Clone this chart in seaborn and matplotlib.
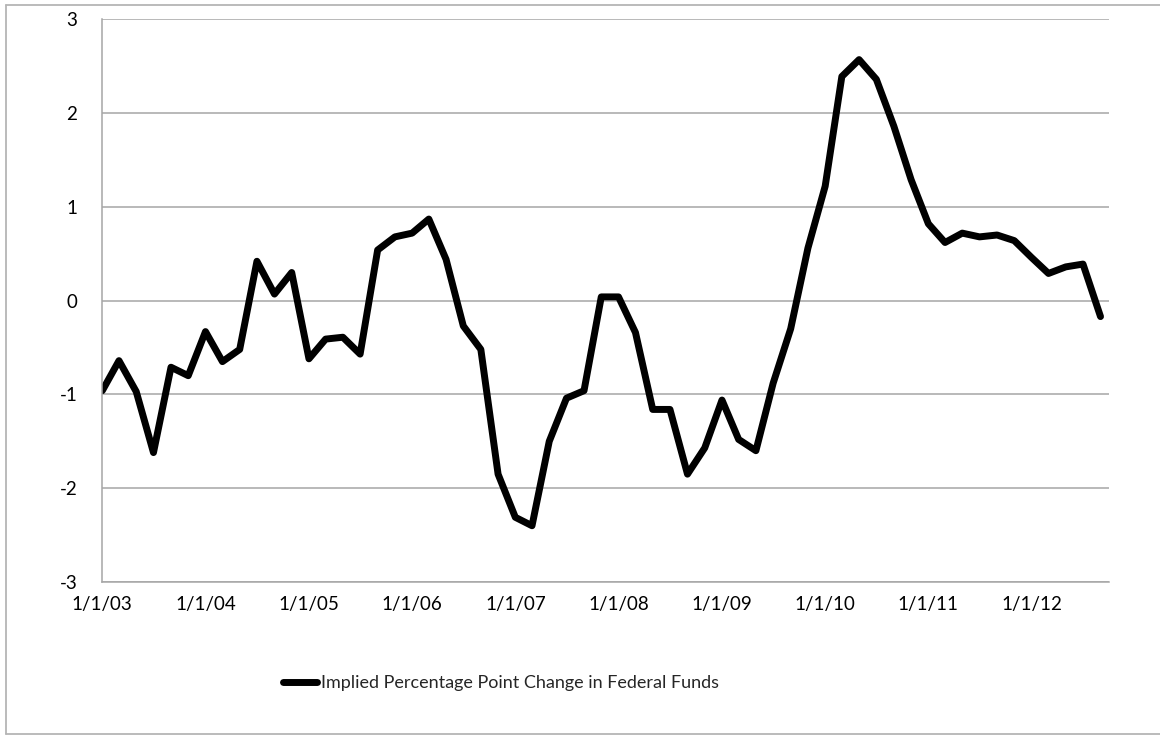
import matplotlib
matplotlib.use("Agg")
import matplotlib.pyplot as plt
import matplotlib.dates as mdates
from matplotlib.lines import Line2D
from matplotlib.ticker import FuncFormatter
import numpy as np
import pandas as pd
import seaborn as sns

# ---- data (bimonthly) ----
start_date = "2003-01-01"
n_points = 59
values = [-0.96, -0.64, -0.97, -1.62, -0.71, -0.80, -0.33, -0.65, -0.52, 0.42,
          0.07, 0.30, -0.62, -0.41, -0.39, -0.57, 0.54, 0.68, 0.72, 0.87,
          0.44, -0.27, -0.52, -1.85, -2.31, -2.40, -1.50, -1.04, -0.96, 0.04,
          0.04, -0.34, -1.16, -1.16, -1.85, -1.57, -1.06, -1.48, -1.60, -0.88,
          -0.30, 0.56, 1.22, 2.39, 2.57, 2.36, 1.86, 1.29, 0.82, 0.62,
          0.72, 0.68, 0.70, 0.64, 0.46, 0.29, 0.36, 0.39, -0.17]
series_name = "Implied Percentage Point Change in Federal Funds"
y_ticks = [-3, -2, -1, 0, 1, 2, 3]
x_tick_years = list(range(2003, 2013))

dates = pd.date_range(start_date, periods=n_points, freq="2MS")
df = pd.DataFrame({"date": dates, "value": values})

sns.set_style("white")
plt.rcParams["font.family"] = ["Lato", "DejaVu Sans"]
plt.rcParams["axes.unicode_minus"] = False

W, H = 1160, 735
fig = plt.figure(figsize=(W / 100, H / 100), dpi=100)
ax = fig.add_axes([102.3 / W, 1 - 582 / H, (1109 - 102.3) / W, (582 - 19.3) / H])

grid_c = "#a6a6a6"
sns.lineplot(data=df, x="date", y="value", ax=ax, color="black", linewidth=5.0,
             label=series_name, legend=False)
for l in ax.lines:
    l.set_solid_joinstyle("round")
    l.set_solid_capstyle("round")

ax.set_ylim(-3, 3)
ax.set_yticks(y_ticks)
ax.set_xlim(pd.Timestamp("2003-01-01"), pd.Timestamp("2012-10-01"))
ax.set_xticks([pd.Timestamp(f"{y}-01-01") for y in x_tick_years])
ax.xaxis.set_major_formatter(FuncFormatter(
    lambda v, p: (lambda d: f"{d.month}/{d.day}/{d:%y}")(mdates.num2date(v))))
ax.set_xlabel("")
ax.set_ylabel("")

ax.grid(axis="y", color=grid_c, linewidth=1.1)
ax.grid(axis="x", visible=False)
for s in ["top", "right"]:
    ax.spines[s].set_visible(False)
for s in ["left", "bottom"]:
    ax.spines[s].set_color(grid_c)
    ax.spines[s].set_linewidth(1.1)
ax.tick_params(axis="both", which="major", direction="out", length=5, width=1.1,
               color=grid_c, labelsize=13.5, labelcolor="black")
ax.tick_params(axis="y", pad=13)
ax.tick_params(axis="x", pad=5)

handles = [Line2D([0], [0], color="black", linewidth=5.0, solid_capstyle="round")]
fig.legend(handles, [series_name], loc="center", bbox_to_anchor=(501 / W, 1 - 683 / H),
           frameon=False, fontsize=13, handlelength=1.9, handletextpad=0.25)

# outer chart border
bc = "#b5b5b5"
fig.add_artist(Line2D([6 / W, 6 / W], [1 - 734 / H, 1 - 5 / H], color=bc, lw=1.3, transform=fig.transFigure))
fig.add_artist(Line2D([6 / W, 1.0], [1 - 5 / H, 1 - 5 / H], color=bc, lw=1.3, transform=fig.transFigure))
fig.add_artist(Line2D([6 / W, 1.0], [1 - 734 / H, 1 - 734 / H], color=bc, lw=1.3, transform=fig.transFigure))

fig.savefig("out.png", dpi=100)
